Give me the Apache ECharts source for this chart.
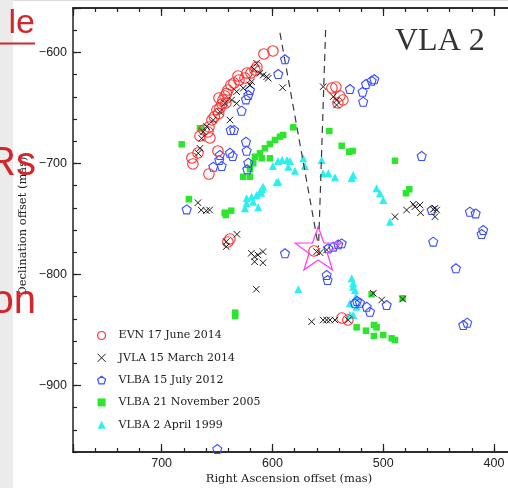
<!DOCTYPE html>
<html>
<head>
<meta charset="utf-8">
<script src="https://cdn.jsdelivr.net/npm/echarts@6/dist/echarts.min.js"></script>
<style>
  html, body { margin: 0; padding: 0; background: #fff; }
  #chart { width: 508px; height: 488px; }
</style>
</head>
<body>
<div id="chart"></div>
<script>
// offsets in mas: [right ascension, declination]
const evnData = [
  [599.6,-598.7],[607.7,-601.4],[615.8,-615.9],[619.4,-618.6],[623.0,-618.6],[614.0,-613.2],
  [624.8,-623.1],[631.1,-621.3],[630.2,-624.9],[634.7,-627.6],[637.5,-629.4],[640.2,-633.9],
  [642.9,-639.3],[644.7,-642.9],[645.6,-646.5],[647.4,-650.1],[650.1,-651.9],[642.0,-645.6],
  [648.3,-641.1],[654.6,-660.9],[657.3,-667.2],[658.2,-671.7],[656.4,-677.1],[665.4,-675.3],
  [661.8,-669.9],[649.2,-688.8],[672.7,-695.1],[671.8,-700.5],[667.2,-690.6],[657.3,-709.6],
  [641.5,-637.0],[648.5,-655.0],[652.5,-658.0],
  [546.3,-632.1],[542.7,-631.2],[536.4,-642.9],[540.9,-645.6],[539.1,-639.3],
  [640.2,-770.8],[638.4,-768.1],[562.5,-778.9],[537.3,-839.3],[531.9,-841.1]
];
const jvlaData = [
  [614.3,-609.8],[616.4,-615.2],[611.3,-618.8],[608.3,-620.4],[605.2,-621.9],[603.8,-623.3],
  [590.8,-631.8],[618.8,-626.4],[620.3,-629.4],[626.4,-632.3],[632.3,-635.4],[632.3,-645.9],
  [636.8,-642.9],[642.9,-645.9],[647.4,-653.4],[653.4,-660.9],[638.4,-660.9],[659.4,-666.9],
  [662.5,-671.4],[663.9,-677.4],[665.4,-686.4],[667.0,-690.9],
  [554.2,-630.9],[545.1,-639.9],[542.1,-642.9],[542.1,-647.4],
  [667.2,-735.4],[664.3,-742.0],[659.7,-742.6],[656.7,-742.0],
  [641.7,-770.5],[641.7,-775.0],[632.0,-763.9],
  [619.1,-781.0],[616.1,-784.1],[613.1,-782.5],[608.6,-779.5],[616.1,-788.6],[608.6,-789.5],
  [614.6,-813.4],[560.1,-779.5],[557.1,-780.4],[551.1,-778.0],
  [564.6,-842.6],[554.2,-841.1],[551.1,-841.1],[548.1,-841.1],[543.6,-841.1],[531.6,-841.1],
  [509.0,-817.0],[501.4,-823.1],[482.5,-822.2],
  [489.4,-748.0],[478.9,-742.0],[472.9,-736.8],[471.4,-739.0],[466.9,-737.5],[466.3,-744.4],
  [454.9,-741.4],[453.3,-740.4],[451.8,-742.0],[453.3,-748.0]
];
const vlba2012Data = [
  [588.7,-606.2],[594.8,-619.5],[620.3,-633.9],[621.8,-638.4],[623.9,-642.3],[627.8,-652.5],
  [637.7,-669.9],[634.7,-669.9],[623.9,-680.5],[623.3,-688.6],[647.4,-692.4],[648.0,-696.9],
  [638.4,-690.4],[635.9,-693.3],[653.4,-703.0],[645.8,-702.3],[621.8,-699.4],[622.7,-705.3],
  [518.1,-644.4],[530.1,-633.0],[518.6,-635.4],[515.6,-628.5],[510.5,-625.5],[508.1,-624.2],
  [465.3,-693.3],[677.4,-741.4],[588.7,-781.0],[549.6,-776.5],[545.1,-775.0],[540.6,-772.9],
  [537.5,-772.0],[551.1,-800.5],[550.2,-805.0],[456.3,-742.0],[421.8,-743.5],[416.6,-745.0],
  [409.8,-760.0],[411.2,-763.6],[454.9,-770.5],[434.4,-794.5],[496.9,-827.6],[525.5,-826.0],
  [521.0,-825.5],[515.0,-829.1],[512.0,-833.6],[523.7,-824.0],[427.8,-845.6],[424.2,-843.5],
  [649.8,-957.3]
];
const vlba2005Data = [
  [681.9,-682.8],[665.4,-668.4],[675.4,-732.3],[643.1,-744.4],[637.2,-742.6],[642.2,-746.5],
  [626.4,-712.0],[620.3,-712.0],[620.3,-705.3],[615.8,-694.0],[611.3,-690.9],[606.8,-686.4],
  [602.3,-682.5],[597.7,-678.9],[593.2,-675.9],[590.3,-674.4],[617.3,-699.9],[609.7,-695.4],
  [602.3,-695.4],[581.2,-667.5],[548.7,-670.8],[537.5,-684.1],[530.7,-689.5],[527.6,-688.8],
  [489.4,-697.6],[476.5,-723.3],[479.5,-726.9],[633.6,-834.5],[633.6,-837.5],[510.5,-817.9],
  [482.5,-821.5],[524.0,-847.7],[515.6,-850.7],[508.4,-845.6],[506.0,-847.7],[508.4,-855.5],
  [500.0,-854.6],[492.4,-857.6],[489.4,-859.1]
];
const vlba1999Data = [
  [608.3,-721.0],[596.2,-717.0],[595.0,-697.8],[591.4,-696.9],[586.9,-696.9],[584.2,-697.8],
  [599.6,-702.3],[585.7,-703.0],[579.7,-706.6],[572.2,-695.4],[570.7,-702.3],[555.6,-696.9],
  [554.2,-708.9],[549.6,-708.9],[543.6,-712.5],[528.5,-713.4],[527.1,-710.5],[506.0,-722.4],
  [503.0,-726.9],[500.0,-733.0],[494.0,-752.5],[594.8,-716.5],[609.7,-723.0],[611.3,-725.5],
  [614.3,-728.5],[618.8,-730.0],[623.3,-731.4],[617.3,-734.5],[624.8,-740.4],[612.8,-739.5],
  [623.3,-735.9],[610.1,-726.4],
  [528.5,-803.5],[527.1,-808.0],[525.5,-814.0],[524.6,-820.1],[524.0,-829.1],[530.1,-836.6],
  [576.7,-813.4],[527.1,-811.1],[530.1,-826.0],[527.1,-836.6]
];
const starPoint = [558.7, -776.5];
const dashLeft = [[593.2, -582.5], [558.4, -775.3]];
const dashRight = [[552.0, -579.8], [558.4, -775.3]];

const seriesNames = ['EVN 17 June 2014', 'JVLA 15 March 2014', 'VLBA 15 July 2012',
  'VLBA 21 November 2005', 'VLBA 2 April 1999'];

const crossPath = 'path://M0,0L10,10M10,0L0,10';
const pentagonPath = 'path://M50,0L97.6,34.5L79.4,90.5L20.6,90.5L2.4,34.5Z';
const starPath = 'path://M50,0L61.8,33.8L97.6,34.5L69,56.2L79.4,90.5L50,70L20.6,90.5L31,56.2L2.4,34.5L38.2,33.8Z';

const chart = echarts.init(document.getElementById('chart'));

const tickLine = { color: '#222', width: 1.2 };
const frameLine = { show: true, lineStyle: { color: '#222', width: 1.5 } };
const labelFont = { fontFamily: 'Liberation Sans', fontSize: 12.5, color: '#222' };

function xAx(pos, interval, len, labels) {
  return {
    type: 'value', gridIndex: 0, position: pos, min: 300, max: 780, inverse: true,
    interval: interval, splitLine: { show: false }, axisLine: frameLine,
    axisTick: { show: true, inside: true, length: len, lineStyle: tickLine },
    axisLabel: labels ? Object.assign({
      show: true, margin: 5,
      formatter: v => (v % 100 === 0 ? String(v) : '')
    }, labelFont) : { show: false }
  };
}

chart.setOption({
  animation: false,
  backgroundColor: '#fff',
  grid: [
    { left: 73, top: 8, width: 531.84, height: 444, outerBoundsMode: 'none', containLabel: false },
    { left: 73, top: 8, width: 531.84, height: 488.4, outerBoundsMode: 'none', containLabel: false }
  ],
  xAxis: [
    xAx('bottom', 20, 4, false),
    xAx('top', 20, 4, false),
    xAx('bottom', 100, 8, true),
    xAx('top', 100, 8, false),
    { type: 'value', gridIndex: 1, min: 300, max: 780, inverse: true, show: false }
  ],
  yAxis: [
    {
      type: 'value', gridIndex: 0, min: -960, max: -560, interval: 20,
      splitLine: { show: false }, axisLine: frameLine,
      axisTick: { show: true, inside: true, length: 4, lineStyle: tickLine },
      axisLabel: { show: false }
    },
    {
      type: 'value', gridIndex: 1, min: -1000, max: -560, interval: 100,
      splitLine: { show: false }, axisLine: { show: false },
      axisTick: { show: true, inside: true, length: 8, lineStyle: tickLine },
      axisLabel: Object.assign({
        show: true, margin: 6,
        formatter: v => (v % 100 === 0 && v > -1000 ? String(v).replace('-', '\u2212') : '')
      }, labelFont)
    }
  ],
  legend: {
    orient: 'vertical', left: 92, top: 325,
    itemWidth: 8, itemHeight: 8, itemGap: 11.3,
    textStyle: { fontFamily: 'DejaVu Serif', fontSize: 11, color: '#222', lineHeight: 8, padding: [0, 0, 0, 8] },
    data: [
      { name: seriesNames[0], itemStyle: { borderWidth: 1.2 } },
      { name: seriesNames[1], itemStyle: { borderWidth: 1 } },
      { name: seriesNames[2], itemStyle: { borderWidth: 1.2 } },
      { name: seriesNames[3], itemStyle: { borderWidth: 0 } },
      { name: seriesNames[4], itemStyle: { borderWidth: 0 } }
    ]
  },
  series: [
    {
      name: seriesNames[4], type: 'scatter', data: vlba1999Data,
      symbol: 'triangle', symbolSize: 8,
      itemStyle: { color: '#2cf0f0', opacity: 1 }
    },
    {
      name: seriesNames[3], type: 'scatter', data: vlba2005Data,
      symbol: 'rect', symbolSize: 6.5,
      itemStyle: { color: '#2ce62c', opacity: 1 }
    },
    {
      name: seriesNames[2], type: 'scatter', data: vlba2012Data,
      symbol: pentagonPath, symbolSize: 9,
      itemStyle: { color: 'transparent', borderColor: '#3a4dff', borderWidth: 1.1, opacity: 1 }
    },
    {
      name: seriesNames[0], type: 'scatter', data: evnData,
      symbol: 'circle', symbolSize: 10.5,
      itemStyle: { color: 'transparent', borderColor: '#ff3333', borderWidth: 1.1, opacity: 1 }
    },
    {
      name: seriesNames[1], type: 'scatter', data: jvlaData,
      symbol: crossPath, symbolSize: 6.5,
      itemStyle: { color: 'transparent', borderColor: '#1a1a1a', borderWidth: 1, opacity: 1 }
    },
    {
      name: 'direction-left', type: 'line', data: dashLeft, showSymbol: false, silent: true,
      lineStyle: { color: '#3a3a3a', width: 1.2, type: [7, 5] }
    },
    {
      name: 'direction-right', type: 'line', data: dashRight, showSymbol: false, silent: true,
      lineStyle: { color: '#3a3a3a', width: 1.2, type: [7, 5] }
    },
    {
      name: 'source', type: 'scatter', data: [starPoint],
      symbol: starPath, symbolSize: [46, 43],
      itemStyle: { color: 'transparent', borderColor: '#ff44ff', borderWidth: 1.3, opacity: 1 }
    }
  ],
  graphic: [
    { type: 'rect', z: 0, shape: { x: 0, y: 0, width: 13, height: 488 }, style: { fill: '#ebebeb' } },
    { type: 'rect', z: 0, shape: { x: 13, y: 0, width: 495, height: 1 }, style: { fill: '#dcdcdc' } },
    {
      type: 'text', x: 289, y: 479,
      style: { text: 'Right Ascension offset (mas)', font: '11.5px "DejaVu Serif"', fill: '#222',
        align: 'center', verticalAlign: 'middle', textAlign: 'center', textVerticalAlign: 'middle' }
    },
    {
      type: 'text', x: 23, y: 226, rotation: Math.PI / 2,
      style: { text: 'Declination offset (mas)', font: '11.5px "DejaVu Serif"', fill: '#222',
        align: 'center', verticalAlign: 'middle', textAlign: 'center', textVerticalAlign: 'middle' }
    },
    {
      type: 'text', x: 395, y: 42,
      style: { text: 'VLA 2', font: '32px "Liberation Serif"', fill: '#333',
        align: 'left', verticalAlign: 'middle', textAlign: 'left', textVerticalAlign: 'middle' }
    },
    {
      type: 'text', x: 35, y: 24, z: 100,
      style: { text: 'le', font: '34px "Liberation Sans"', fill: '#d3262a',
        align: 'right', verticalAlign: 'middle', textAlign: 'right', textVerticalAlign: 'middle' }
    },
    { type: 'rect', z: 100, shape: { x: 0, y: 42.5, width: 35, height: 2 }, style: { fill: '#d3262a' } },
    {
      type: 'text', x: 36, y: 164, z: 100,
      style: { text: 'Rs', font: '40px "Liberation Sans"', fill: '#d3262a',
        align: 'right', verticalAlign: 'middle', textAlign: 'right', textVerticalAlign: 'middle' }
    },
    {
      type: 'text', x: 36, y: 302, z: 100,
      style: { text: 'on', font: '40px "Liberation Sans"', fill: '#d3262a',
        align: 'right', verticalAlign: 'middle', textAlign: 'right', textVerticalAlign: 'middle' }
    }
  ]
});
</script>
</body>
</html>
